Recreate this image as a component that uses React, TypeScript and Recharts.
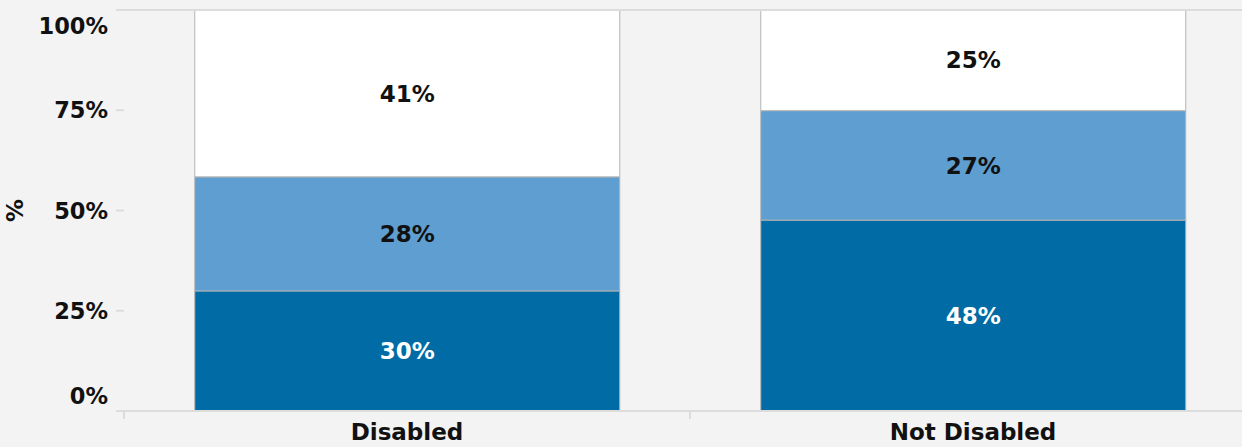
import { BarChart, Bar, XAxis, YAxis, ReferenceLine, LabelList } from "recharts";

const groups = ["Disabled", "Not Disabled"];
const lowShare = [29.8, 47.6];
const midShare = [28.3, 27.3];
const highShare = [41.4, 25.1];
const yTicks = [0, 0.25, 0.5, 0.75, 1];

const data = groups.map((g, i) => ({
  group: g,
  low: lowShare[i],
  mid: midShare[i],
  high: highShare[i],
}));

const FONT = "'DejaVu Sans', sans-serif";
const GRID = "#dcdcdc";
const EDGE = "#b4b4b4";
const SIZE = 23;

const pct = (v: any) => `${Math.round(Number(v))}%`;

function XTick(props: any) {
  const { x, y, payload } = props;
  const half = payload && payload.offset ? payload.offset : 283;
  return (
    <g>
      <line x1={x - half} x2={x - half} y1={y - 8} y2={y} stroke={GRID} strokeWidth={2} />
      <text
        x={x}
        y={y + 21}
        textAnchor="middle"
        fontFamily={FONT}
        fontWeight="bold"
        fontSize={SIZE}
        fill="#111"
      >
        {payload.value}
      </text>
    </g>
  );
}

function YTick(props: any) {
  const { x, y, payload } = props;
  let dy = 8;
  if (payload.value === 1) dy = 24;
  if (payload.value === 0) dy = -7;
  return (
    <text
      x={x}
      y={y + dy}
      textAnchor="end"
      fontFamily={FONT}
      fontWeight="bold"
      fontSize={22.5}
      fill="#111"
    >
      {`${Math.round(payload.value * 100)}%`}
    </text>
  );
}

export default function App() {
  return (
    <div
      style={{
        position: "absolute",
        left: 0,
        top: 0,
        width: 1242,
        height: 447,
        overflow: "hidden",
        background: "#f3f3f3",
      }}
    >
      <BarChart
        width={1264}
        height={447}
        data={data}
        stackOffset="expand"
        barCategoryGap="12.5%"
        margin={{ top: 10, right: 8, left: 2, bottom: 6 }}
      >
        <ReferenceLine y={1} stroke={GRID} strokeWidth={2} ifOverflow="visible" />
        <XAxis
          dataKey="group"
          height={30}
          axisLine={{ stroke: GRID, strokeWidth: 2 }}
          tickLine={false}
          tick={<XTick />}
          interval={0}
        />
        <YAxis
          width={122}
          domain={[0, 1]}
          ticks={yTicks}
          axisLine={false}
          tickSize={8}
          tickMargin={8}
          tickLine={{ stroke: GRID, strokeWidth: 2 }}
          tick={<YTick />}
          label={{
            value: "%",
            angle: -90,
            position: "center",
            dx: -48,
            fontFamily: FONT,
            fontWeight: "bold",
            fontSize: SIZE,
            fill: "#111",
          }}
        />
        <Bar dataKey="low" stackId="a" fill="#006ba4" stroke={EDGE} strokeWidth={1} isAnimationActive={false}>
          <LabelList dataKey="low" position="center" formatter={pct} fill="#ffffff" fontFamily={FONT} fontWeight="bold" fontSize={SIZE} />
        </Bar>
        <Bar dataKey="mid" stackId="a" fill="#5f9ed1" stroke={EDGE} strokeWidth={1} isAnimationActive={false}>
          <LabelList dataKey="mid" position="center" formatter={pct} fill="#111" fontFamily={FONT} fontWeight="bold" fontSize={SIZE} />
        </Bar>
        <Bar dataKey="high" stackId="a" fill="#ffffff" stroke={EDGE} strokeWidth={1} isAnimationActive={false}>
          <LabelList dataKey="high" position="center" formatter={pct} fill="#111" fontFamily={FONT} fontWeight="bold" fontSize={SIZE} />
        </Bar>
      </BarChart>
    </div>
  );
}
